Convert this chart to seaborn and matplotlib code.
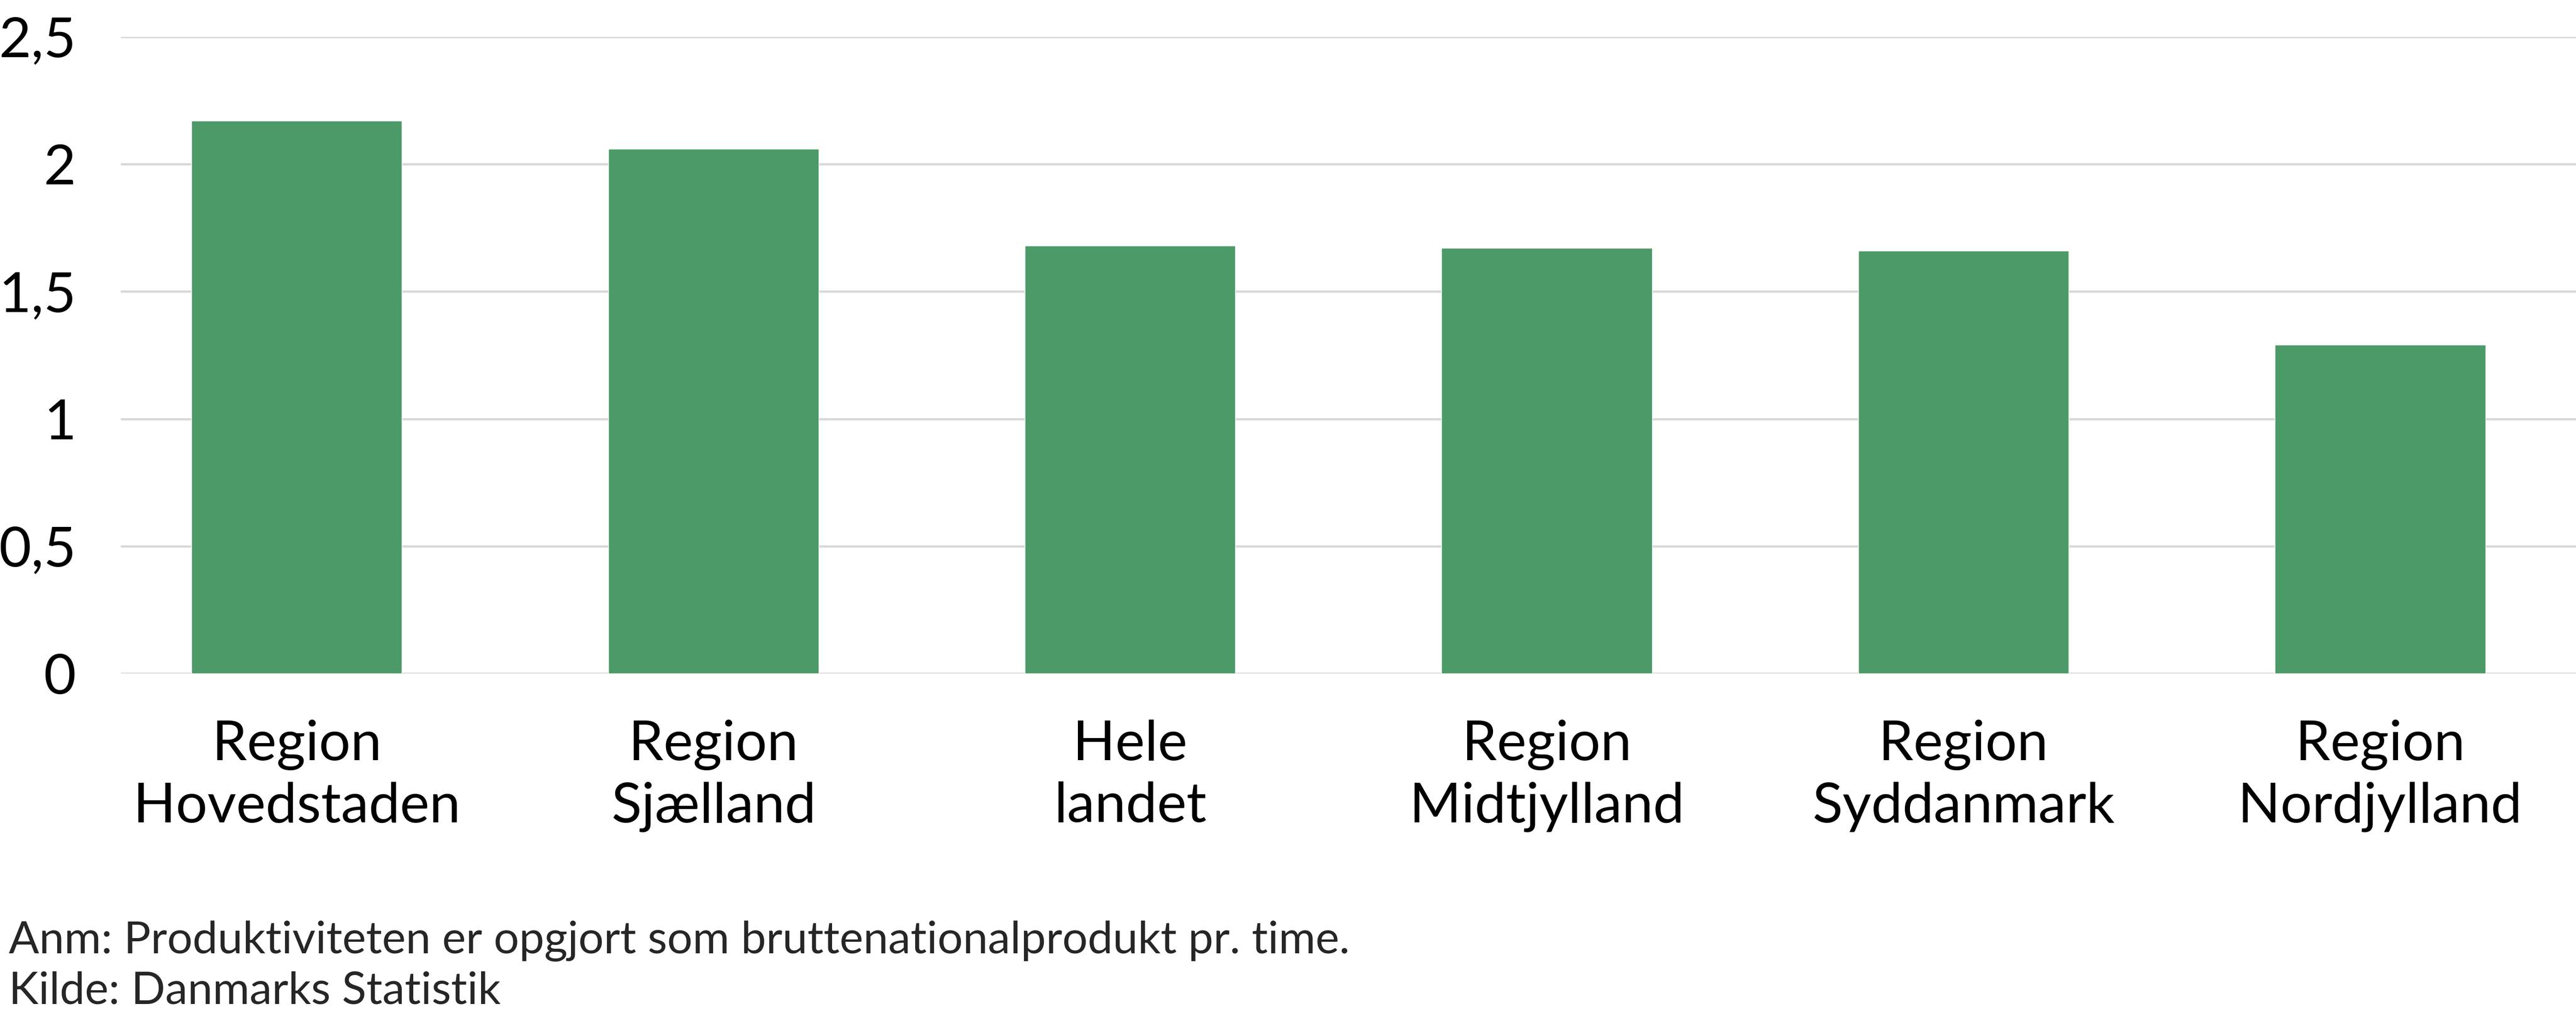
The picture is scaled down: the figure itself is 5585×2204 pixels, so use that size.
import pandas as pd
import seaborn as sns
import matplotlib.pyplot as plt

# Data
regioner = ['Region\nHovedstaden', 'Region\nSjælland', 'Hele\nlandet',
            'Region\nMidtjylland', 'Region\nSyddanmark', 'Region\nNordjylland']
produktivitet = [2.17, 2.06, 1.68, 1.67, 1.66, 1.29]
y_ticks = [0, 0.5, 1, 1.5, 2, 2.5]
y_tick_labels = ['0', '0,5', '1', '1,5', '2', '2,5']
note_text = 'Anm: Produktiviteten er opgjort som bruttenationalprodukt pr. time.'
source_text = 'Kilde: Danmarks Statistik'

df = pd.DataFrame({'region': regioner, 'value': produktivitet})

sns.set_style('white')
plt.rcParams['font.family'] = ['Lato', 'DejaVu Sans']

fig = plt.figure(figsize=(55.85, 22.04), dpi=100)
ax = fig.add_axes([262 / 5585, 1 - 1461 / 2204, 1 - 262 / 5585, (1461 - 80) / 2204])

sns.barplot(data=df, x='region', y='value', color='#4C9A67', saturation=1,
            width=0.505, ax=ax, zorder=3)

ax.set_ylim(0, 2.5)
ax.set_xlim(-0.422, 5.47)
ax.set_yticks(y_ticks)
ax.set_yticklabels(y_tick_labels)
ax.yaxis.grid(True, color='#D9D9D9', linewidth=3.6, zorder=0)
ax.set_axisbelow(True)
for s in ax.spines.values():
    s.set_visible(False)
ax.tick_params(axis='both', length=0, labelsize=87, colors='black')
ax.tick_params(axis='y', pad=70)
ax.tick_params(axis='x', pad=72)
for lbl in ax.get_xticklabels():
    lbl.set_linespacing(1.28)
ax.set_xlabel('')
ax.set_ylabel('')

fig.text(19 / 5585, 1 - 2068 / 2204, note_text, fontsize=70, ha='left', va='baseline')
fig.text(19 / 5585, 1 - 2178 / 2204, source_text, fontsize=70, ha='left', va='baseline')

fig.savefig('out.png', dpi=100, facecolor='white')
